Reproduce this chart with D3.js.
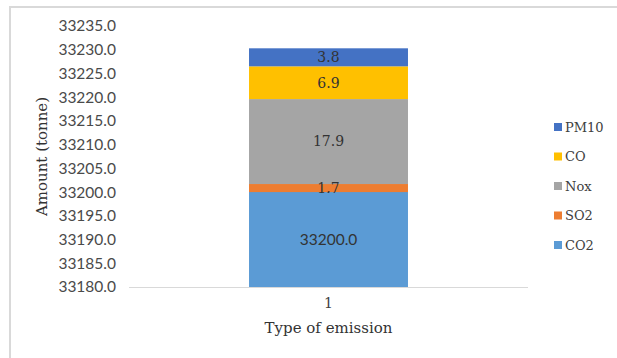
<!DOCTYPE html>
<html>
<head>
<meta charset="utf-8">
<script src="https://cdn.jsdelivr.net/npm/d3@7"></script>
<style>
  html, body { margin: 0; padding: 0; background: #fff; }
  svg { display: block; }
</style>
</head>
<body>
<svg id="chart" width="617" height="358"></svg>
<script>
// Emission amounts for one source, stacked bottom to top
const categories = ["1"];
const seriesNames = ["CO2", "SO2", "Nox", "CO", "PM10"];
const co2 = [33200.0];
const so2 = [1.7];
const nox = [17.9];
const co = [6.9];
const pm10 = [3.8];
const yTicks = [33180, 33185, 33190, 33195, 33200, 33205, 33210, 33215, 33220, 33225, 33230, 33235];

const colors = {
  CO2: "#5B9BD5",
  SO2: "#ED7D31",
  Nox: "#A5A5A5",
  CO: "#FFC000",
  PM10: "#4472C4"
};

const rows = categories.map((c, i) => ({
  cat: c, CO2: co2[i], SO2: so2[i], Nox: nox[i], CO: co[i], PM10: pm10[i]
}));

const svg = d3.select("#chart");
const W = 617, H = 358;
const plot = { left: 129, right: 528, top: 26, bottom: 287 };

// frame
svg.append("path")
  .attr("d", `M10,${H} L10,7 L${W},7`)
  .attr("fill", "none")
  .attr("stroke", "#d9d9d9")
  .attr("stroke-width", 2);

const x = d3.scaleBand().domain(categories).range([plot.left, plot.right]).paddingInner(0.6).paddingOuter(0.302);
const y = d3.scaleLinear().domain([33180, 33235]).range([plot.bottom, plot.top]);

const stack = d3.stack().keys(seriesNames);
const layers = stack(rows);

svg.append("clipPath").attr("id", "plotClip")
  .append("rect")
  .attr("x", plot.left).attr("y", plot.top)
  .attr("width", plot.right - plot.left).attr("height", plot.bottom - plot.top);

const g = svg.append("g").attr("clip-path", "url(#plotClip)");
layers.forEach(layer => {
  g.selectAll(null).data(layer).enter().append("rect")
    .attr("x", d => x(d.data.cat))
    .attr("width", x.bandwidth())
    .attr("y", d => y(d[1]))
    .attr("height", d => y(d[0]) - y(d[1]))
    .attr("fill", colors[layer.key]);
});

// axis baseline
svg.append("line")
  .attr("x1", plot.left).attr("x2", plot.right)
  .attr("y1", plot.bottom + 0.5).attr("y2", plot.bottom + 0.5)
  .attr("stroke", "#d9d9d9").attr("stroke-width", 1.2);

// y axis labels
const yAxis = d3.axisLeft(y).tickValues(yTicks).tickFormat(d3.format(".1f")).tickSize(0).tickPadding(0);
const ya = svg.append("g").attr("transform", `translate(116,0)`).call(yAxis);
ya.select(".domain").remove();
ya.selectAll("text")
  .attr("font-family", "Lato, 'Noto Sans', sans-serif")
  .attr("font-size", 15.5)
  .attr("fill", "#4a4a4a");

// x axis label
const xAxis = d3.axisBottom(x).tickSize(0).tickPadding(0);
const xa = svg.append("g").attr("transform", `translate(0,298)`).call(xAxis);
xa.select(".domain").remove();
xa.selectAll("text")
  .attr("font-family", "'DejaVu Serif', serif")
  .attr("font-size", 14)
  .attr("fill", "#404040");

// axis titles
svg.append("text")
  .attr("x", (plot.left + plot.right) / 2).attr("y", 333)
  .attr("text-anchor", "middle")
  .attr("font-family", "'DejaVu Serif', serif")
  .attr("font-size", 15)
  .attr("fill", "#333")
  .text("Type of emission");

svg.append("text")
  .attr("transform", `translate(47,${(plot.top + plot.bottom) / 2}) rotate(-90)`)
  .attr("text-anchor", "middle")
  .attr("font-family", "'DejaVu Serif', serif")
  .attr("font-size", 15)
  .attr("fill", "#333")
  .text("Amount (tonne)");

// data labels at the centre of each visible segment
layers.forEach(layer => {
  layer.forEach(d => {
    const top = y(d[1]);
    const bot = Math.min(y(d[0]), plot.bottom);
    const v = d[1] - d[0];
    svg.append("text")
      .attr("x", x(d.data.cat) + x.bandwidth() / 2)
      .attr("y", (top + bot) / 2)
      .attr("dy", "0.35em")
      .attr("text-anchor", "middle")
      .attr("font-family", layer.key === "CO2" ? "Lato, sans-serif" : "'DejaVu Serif', serif")
      .attr("font-size", layer.key === "CO2" ? 15.5 : 14)
      .attr("fill", "#333")
      .text(d3.format(".1f")(v));
  });
});

// legend, top entry is the top segment
const legendKeys = seriesNames.slice().reverse();
const lg = svg.append("g").attr("transform", "translate(554,127)");
legendKeys.forEach((k, i) => {
  const row = lg.append("g").attr("transform", `translate(0,${i * 29.5})`);
  row.append("rect").attr("x", 0).attr("y", -4).attr("width", 8).attr("height", 8).attr("fill", colors[k]);
  row.append("text").attr("x", 11).attr("y", 0).attr("dy", "0.35em")
    .attr("font-family", "'DejaVu Serif', serif")
    .attr("font-size", 13)
    .attr("fill", "#404040")
    .text(k);
});
</script>
</body>
</html>
